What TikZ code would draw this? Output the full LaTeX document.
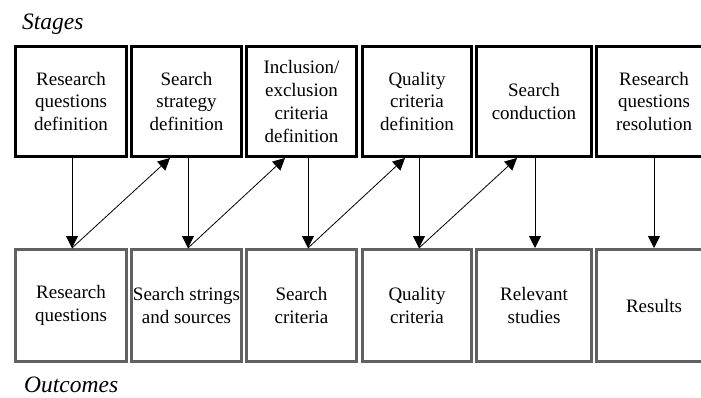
\documentclass[tikz,border=0pt]{standalone}
\usepackage{fontspec}
\setmainfont{Liberation Serif}
\usetikzlibrary{arrows.meta}

\begin{document}
\begin{tikzpicture}[x=1pt,y=-1pt,
  stagebox/.style={draw=black, line width=3pt, inner sep=0pt, align=center,
    minimum height=110pt, font=\fontsize{19}{22.7}\selectfont},
  outbox/.style={draw=black!62, line width=3pt, inner sep=0pt, align=center,
    minimum height=112pt, font=\fontsize{19}{22.7}\selectfont},
  rowlabel/.style={font=\fontsize{23.5}{28}\selectfont\itshape, inner sep=0pt,
    text depth=0pt, anchor=base west},
  flow/.style={line width=0.8pt, -{Triangle[length=12pt,width=12pt]}}
]
\useasboundingbox (0,0) rectangle (701,398);

% row labels
\node[rowlabel] (stg) at (22,30) {Stages};
\node[rowlabel] (out) at (24,392) {Outcomes};

% stages
\node[stagebox, minimum width=111pt] (t1) at (71,101.5) {Research\\questions\\definition};
\node[stagebox, minimum width=110pt] (t2) at (186.5,101.5) {Search\\strategy\\definition};
\node[stagebox, minimum width=110pt] (t3) at (301.5,101.5) {Inclusion/\\exclusion\\criteria\\definition};
\node[stagebox, minimum width=109pt] (t4) at (417,101.5) {Quality\\criteria\\definition};
\node[stagebox, minimum width=115pt] (t5) at (534,101.5) {Search\\conduction};
\node[stagebox, minimum width=115pt] (t6) at (654,101.5) {Research\\questions\\resolution};

% outcomes
\node[outbox, minimum width=111pt] (b1) at (71,305.5) {Research\\questions};
\node[outbox, minimum width=110pt] (b2) at (186.5,305.5) {Search strings\\and sources};
\node[outbox, minimum width=110pt] (b3) at (301.5,305.5) {Search\\criteria};
\node[outbox, minimum width=109pt] (b4) at (417,305.5) {Quality\\criteria};
\node[outbox, minimum width=115pt] (b5) at (534,305.5) {Relevant\\studies};
\node[outbox, minimum width=115pt] (b6) at (654,305.5) {Results};

% each stage produces its outcome
\draw[flow] ([xshift=1pt]t1.south) -- ([xshift=1pt]b1.north);
\draw[flow] ([xshift=1.5pt]t2.south) -- ([xshift=1.5pt]b2.north);
\draw[flow] ([xshift=6.5pt]t3.south) -- ([xshift=6.5pt]b3.north);
\draw[flow] ([xshift=2pt]t4.south) -- ([xshift=2pt]b4.north);
\draw[flow] ([xshift=1pt]t5.south) -- ([xshift=1pt]b5.north);
\draw[flow] (t6.south) -- (b6.north);

% each outcome feeds the next stage
\draw[flow] ([xshift=1pt]b1.north) -- ([xshift=-16.5pt]t2.south);
\draw[flow] ([xshift=1.5pt]b2.north) -- ([xshift=-16.5pt]t3.south);
\draw[flow] ([xshift=6.5pt]b3.north) -- ([xshift=-12pt]t4.south);
\draw[flow] ([xshift=2pt]b4.north) -- ([xshift=-17pt]t5.south);
\end{tikzpicture}
\end{document}
